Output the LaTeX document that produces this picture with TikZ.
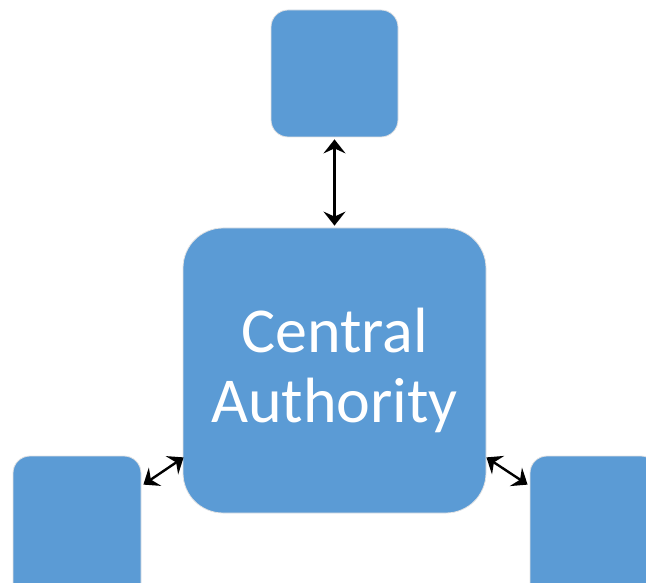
\documentclass[tikz,border=0pt]{standalone}
\usepackage{fontspec}
\setmainfont{Carlito}
\usetikzlibrary{arrows.meta,calc}
\definecolor{boxblue}{HTML}{5B9BD5}
\definecolor{edgegray}{HTML}{E4E4E4}
\tikzset{
  bluebox/.style={rectangle, fill=boxblue, draw=edgegray, line width=0.8pt, inner sep=0pt},
  smallbox/.style={bluebox, minimum width=127pt, minimum height=127pt, rounded corners=17pt},
  sidebox/.style={bluebox, minimum width=128pt, minimum height=150pt, rounded corners=17pt},
  bigbox/.style={bluebox, minimum width=303pt, minimum height=285pt, rounded corners=40pt,
    text=white, align=center, font=\fontsize{64}{70}\selectfont},
  tip/.tip={Stealth[length=14pt,width=22pt,inset=5pt]},
  link/.style={line width=2.4pt, tip-tip}
}
\begin{document}
\begin{tikzpicture}[x=1pt,y=1pt]
\useasboundingbox (0,0) rectangle (646,582);
\node[smallbox] (top) at (334.5,508.5) {};
\node[bigbox] (ca) at (334.5,211.5) {Central\\Authority};
\node[sidebox] (lb) at (77,51) {};
\node[sidebox] (rb) at (594,51) {};
\draw[link] ($(top.south)+(0,-2)$) -- ($(ca.north)+(0,2)$);
\draw[link] ($(lb.north east)+(2,-29)$) -- ($(ca.south west)+(1,56)$);
\draw[link] ($(ca.south east)+(0,56)$) -- ($(rb.north west)+(-2,-29)$);
\end{tikzpicture}
\end{document}
